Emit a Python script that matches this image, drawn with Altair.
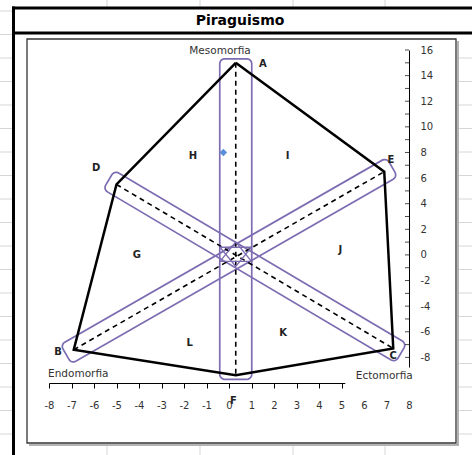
import altair as alt
import numpy as np
import pandas as pd

# ---- somatochart data -------------------------------------------------
# frame vertices (x = ecto - endo, y = 2*meso - endo - ecto)
pt_names = ["A", "E", "C", "F", "B", "D"]
pt_x = [0.3, 6.9, 7.3, 0.3, -6.9, -5.0]
pt_y = [15.0, 6.5, -7.3, -9.4, -7.4, 5.5]

# the three axes that cross the chart
axis_pairs = [("A", "F"), ("D", "C"), ("E", "B")]

# letters naming vertices and regions
lab_text = ["A", "D", "E", "H", "I", "G", "J", "L", "K", "B", "C", "F"]
lab_x = [1.5, -5.9, 7.2, -1.6, 2.6, -4.1, 4.95, -1.75, 2.4, -7.6, 7.3, 0.2]
lab_y = [14.9, 6.8, 7.4, 7.7, 7.7, 0.0, 0.4, -6.9, -6.1, -7.6, -7.9, -11.4]

# somatotype poles
pole_text = ["Mesomorfia", "Endomorfia", "Ectomorfia"]
pole_x = [-0.4, -6.7, 6.9]
pole_y = [15.95, -9.3, -9.45]

# mean somatotype of the group
som_x = [-0.25]
som_y = [8.0]

# small star around the centre
star_up_x = [-0.4, 1.0, 0.3]
star_up_y = [-0.5, -0.5, 1.0]
star_dn_x = [-0.4, 1.0, 0.3]
star_dn_y = [0.6, 0.6, -0.9]

# tick values
x_ticks = list(range(-8, 9))
y_labels = list(range(-8, 17, 2))
y_minor = list(range(-9, 17))

# ---- layout -----------------------------------------------------------
X_DOM = [-8, 8]
Y_DOM = [-10, 16]
W, H = 360, 333
PAD_L, PAD_T = 49, 50
PAD_R, PAD_B = 472 - PAD_L - W, 455 - PAD_T - H
SX = W / (X_DOM[1] - X_DOM[0])
SY = H / (Y_DOM[1] - Y_DOM[0])
FONT = "DejaVu Sans"
PLAIN_MINUS = "datum.value < 0 ? '-' + abs(datum.value) : '' + datum.value"

xs = alt.Scale(domain=X_DOM, nice=False, zero=False)
ys = alt.Scale(domain=Y_DOM, nice=False, zero=False)
xax = alt.Axis(values=x_ticks, tickSize=5, tickColor="black", domainColor="black",
               labelPadding=12, labelFontSize=10, labelFont=FONT, labelColor="#333",
               labelExpr=PLAIN_MINUS,
               grid=False, title=None, labelFlush=False, labelOverlap=False)
yax = alt.Axis(orient="right", values=y_labels, ticks=False, domainColor="black",
               labelPadding=11, labelFontSize=10, labelFont=FONT, labelColor="#333",
               labelExpr=PLAIN_MINUS,
               grid=False, title=None, labelFlush=False, labelOverlap=False)


def X(f):
    return alt.X(f, type="quantitative", scale=xs, axis=xax)


def Y(f):
    return alt.Y(f, type="quantitative", scale=ys, axis=yax)


pts = dict(zip(pt_names, zip(pt_x, pt_y)))


def rounded_band(p, q, hw, ext, r, n=6):
    """Outline of a rounded rectangle (in pixel proportions) around segment p-q."""
    px, py = p[0] * SX, p[1] * SY
    qx, qy = q[0] * SX, q[1] * SY
    L = np.hypot(qx - px, qy - py)
    ux, uy = (qx - px) / L, (qy - py) / L
    vx, vy = -uy, ux
    s0, s1, t0, t1 = -ext, L + ext, -hw, hw
    corners = [(s1 - r, t1 - r, 0), (s0 + r, t1 - r, 90),
               (s0 + r, t0 + r, 180), (s1 - r, t0 + r, 270)]
    out = []
    for cs, ct, a0 in corners:
        for a in np.radians(np.linspace(a0, a0 + 90, n)):
            out.append((cs + r * np.cos(a), ct + r * np.sin(a)))
    out.append(out[0])
    return [((px + s * ux + t * vx) / SX, (py + s * uy + t * vy) / SY) for s, t in out]


band_rows = []
for k, (a, b) in enumerate(axis_pairs):
    hw, ext = (16, 4) if k == 0 else (11, 9)
    for i, (bx, by) in enumerate(rounded_band(pts[a], pts[b], hw, ext, 5)):
        band_rows.append({"band": k, "i": i, "x": bx, "y": by})
bands_df = pd.DataFrame(band_rows)

dash_df = pd.DataFrame([{"seg": k, "x": pts[n][0], "y": pts[n][1]}
                        for k, pair in enumerate(axis_pairs) for n in pair])

poly_order = pt_names + [pt_names[0]]
poly_df = pd.DataFrame({"i": range(len(poly_order)),
                        "x": [pts[n][0] for n in poly_order],
                        "y": [pts[n][1] for n in poly_order]})

star_df = pd.DataFrame(
    [{"tri": 0, "i": i, "x": x, "y": y} for i, (x, y) in enumerate(zip(star_up_x + star_up_x[:1], star_up_y + star_up_y[:1]))] +
    [{"tri": 1, "i": i, "x": x, "y": y} for i, (x, y) in enumerate(zip(star_dn_x + star_dn_x[:1], star_dn_y + star_dn_y[:1]))])

labels_df = pd.DataFrame({"t": lab_text, "x": lab_x, "y": lab_y})
poles_df = pd.DataFrame({"t": pole_text, "x": pole_x, "y": pole_y})
som_df = pd.DataFrame({"x": som_x, "y": som_y})
ticks_df = pd.DataFrame({"x": [X_DOM[1]] * len(y_minor), "y": y_minor})
one = pd.DataFrame({"k": [0]})

layers = []


def hrule(x0, x1, y, color, width):
    return alt.Chart(one).mark_rule(color=color, strokeWidth=width).encode(
        x=alt.value(x0 - PAD_L), x2=alt.value(x1 - PAD_L), y=alt.value(y - PAD_T))


def vrule(x, y0, y1, color, width):
    return alt.Chart(one).mark_rule(color=color, strokeWidth=width).encode(
        x=alt.value(x - PAD_L), y=alt.value(y0 - PAD_T), y2=alt.value(y1 - PAD_T))


# spreadsheet cells around the chart object
GRID = "#d6d6d6"
for row in range(20):
    gy = 11 + 23.5 * row
    layers.append(hrule(0, 12, gy, GRID, 1))
    if gy > 40:
        layers.append(hrule(459, 472, gy, GRID, 1))
for col in [107, 200, 293, 385]:
    layers.append(vrule(col, 0, 7, GRID, 1))
    layers.append(vrule(col, 446, 455, GRID, 1))

# chart object: thick title frame and inner plot box with shadow
for yy in [8, 33]:
    layers.append(hrule(12, 472, yy, "black", 3))
layers.append(vrule(13.5, 6.5, 455, "black", 3))
layers.append(vrule(458, 41, 445.5, "#9a9a9a", 1.5))
layers.append(hrule(29, 458.5, 445, "#9a9a9a", 1.5))
layers.append(alt.Chart(one).mark_rect(fill=None, stroke="#333", strokeWidth=1.3).encode(
    x=alt.value(27 - PAD_L), x2=alt.value(456 - PAD_L),
    y=alt.value(39 - PAD_T), y2=alt.value(443 - PAD_T)))
layers.append(alt.Chart(one).mark_text(text="Piraguismo", font=FONT, fontSize=14,
                                       fontWeight="bold", color="black").encode(
    x=alt.value(240 - PAD_L), y=alt.value(20.5 - PAD_T)))

# purple bands around each axis
layers.append(alt.Chart(bands_df).mark_line(color="#7d6cb2", strokeWidth=1.7).encode(
    x=X("x"), y=Y("y"), detail="band:N", order="i:Q"))

# dashed axes
layers.append(alt.Chart(dash_df).mark_line(color="black", strokeWidth=1.6,
                                           strokeDash=[5, 4]).encode(
    x=X("x"), y=Y("y"), detail="seg:N"))

# frame polygon
layers.append(alt.Chart(poly_df).mark_line(color="black", strokeWidth=2.5,
                                           strokeJoin="miter").encode(
    x=X("x"), y=Y("y"), order="i:Q"))

# centre star
layers.append(alt.Chart(star_df).mark_line(color="#7d6cb2", strokeWidth=1.3).encode(
    x=X("x"), y=Y("y"), detail="tri:N", order="i:Q"))

# group somatotype
layers.append(alt.Chart(som_df).mark_point(shape="diamond", filled=True, size=55,
                                           color="#5a8ed8", opacity=1).encode(
    x=X("x"), y=Y("y")))

# minor ticks of the vertical axis (pointing inwards)
layers.append(alt.Chart(ticks_df).mark_tick(orient="horizontal", size=4, thickness=1,
                                            color="black", xOffset=-2).encode(
    x=X("x"), y=Y("y")))

# white box behind the Ectomorfia label (hides the end of the axis)
layers.append(alt.Chart(poles_df[poles_df.t == "Ectomorfia"]).mark_point(
    shape="M-1,-0.32L1,-0.32L1,0.32L-1,0.32Z", size=78 ** 2, filled=True,
    color="white", opacity=1, strokeWidth=0, yOffset=4).encode(x=X("x"), y=Y("y")))

# pole names and letters
layers.append(alt.Chart(poles_df).mark_text(font=FONT, fontSize=10.5, color="#333").encode(
    x=X("x"), y=Y("y"), text="t:N"))
layers.append(alt.Chart(labels_df).mark_text(font=FONT, fontSize=10, fontWeight="bold",
                                             color="#222").encode(
    x=X("x"), y=Y("y"), text="t:N"))

chart = alt.layer(*layers).properties(
    width=W, height=H,
    padding={"left": PAD_L, "top": PAD_T, "right": PAD_R, "bottom": PAD_B},
    autosize=alt.AutoSizeParams(type="none"),
    background="white",
).configure_view(stroke=None)

chart.save("out.html", embed_options={"renderer": "svg", "actions": False})
